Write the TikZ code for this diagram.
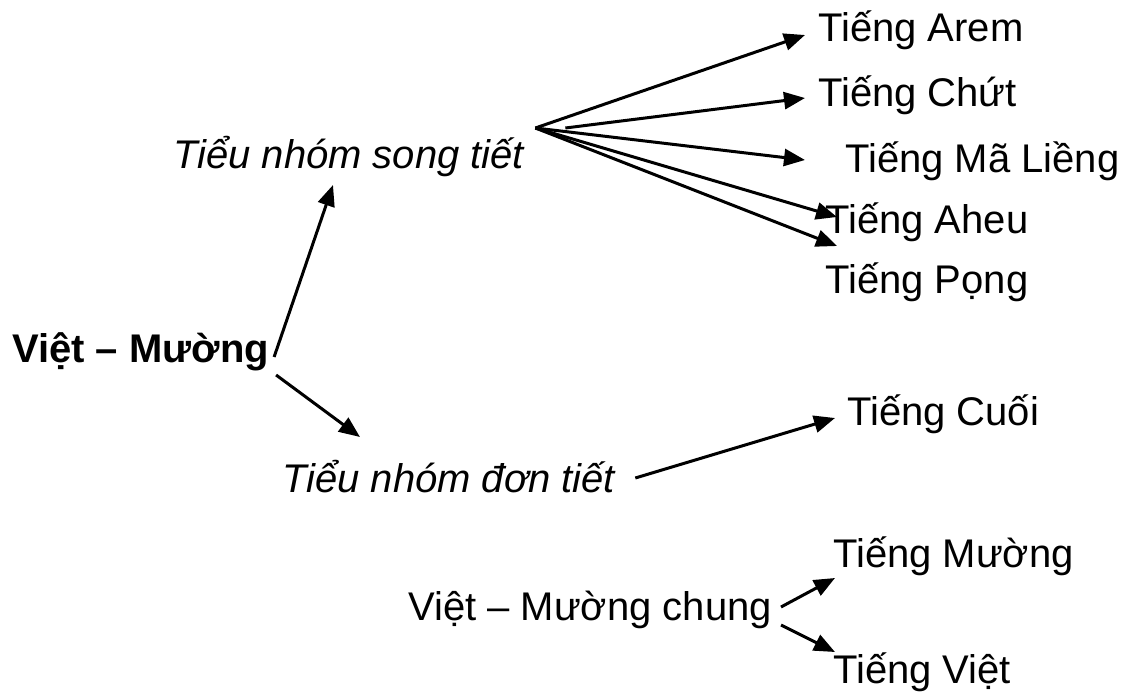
\documentclass[tikz,border=0pt]{standalone}
\usepackage{fontspec}
\setmainfont{Liberation Sans}
\usetikzlibrary{arrows.meta}
\begin{document}
\begin{tikzpicture}[x=1pt,y=1pt,
  lbl/.style={inner sep=0pt,anchor=base west,font=\fontsize{40}{48}\selectfont},
  arr/.style={line width=3pt,-{Triangle[length=21pt,width=17pt]}}]
\useasboundingbox[fill=white] (0,0) rectangle (1124,-693);
\node[lbl,font=\fontsize{40}{48}\selectfont\bfseries] (vm) at (12,-362) {Việt – Mường};
\node[lbl,font=\fontsize{40}{48}\selectfont\itshape] (song) at (173,-168) {Tiểu nhóm song tiết};
\node[lbl,font=\fontsize{40}{48}\selectfont\itshape] (don) at (282,-492) {Tiểu nhóm đơn tiết};
\node[lbl] (arem) at (818,-42) {Tiếng Arem};
\node[lbl] (chut) at (818,-106) {Tiếng Chứt};
\node[lbl] (ma) at (845,-172) {Tiếng Mã Liềng};
\node[lbl] (aheu) at (825,-233) {Tiếng Aheu};
\node[lbl] (pong) at (825,-293) {Tiếng Pọng};
\node[lbl] (cuoi) at (847,-425) {Tiếng Cuối};
\node[lbl] (chung) at (408,-620) {Việt – Mường chung};
\node[lbl] (muong) at (833,-567) {Tiếng Mường};
\node[lbl] (viet) at (833,-683) {Tiếng Việt};
\coordinate (fan) at ([shift={(11,40)}]song.base east);
\draw[arr] ([shift={(5,5)}]vm.base east) -- ([shift={(160,-17)}]song.base west);
\draw[arr] ([shift={(7,-13)}]vm.base east) -- ([shift={(78,55)}]don.base west);
\draw[arr] (fan) -- ([shift={(-13,7)}]arem.base west);
\draw[arr] ([shift={(30,0)}]fan) -- ([shift={(-13,8)}]chut.base west);
\draw[arr] (fan) -- ([shift={(-40,12)}]ma.base west);
\draw[arr] (fan) -- ([shift={(12,16)}]aheu.base west);
\draw[arr] (fan) -- ([shift={(12,47)}]pong.base west);
\draw[arr] ([shift={(20,14)}]don.base east) -- ([shift={(-12,7)}]cuoi.base west);
\draw[arr] ([shift={(9,13)}]chung.base east) -- ([shift={(2,-11)}]muong.base west);
\draw[arr] ([shift={(9,-5)}]chung.base east) -- ([shift={(2,31)}]viet.base west);
\end{tikzpicture}
\end{document}
